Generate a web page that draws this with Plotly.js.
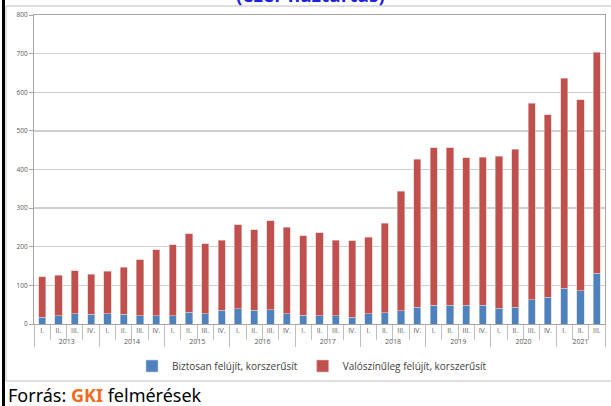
<!DOCTYPE html>
<html>
<head>
<meta charset="utf-8">
<script src="https://cdn.plot.ly/plotly-3.0.1.min.js"></script>
<style>
html,body{margin:0;padding:0;background:#fff;}
#chart{width:611px;height:406px;}
</style>
</head>
<body>
<div id="chart"></div>
<script>
// Categories
var yearLabels = ['2013','2013','2013','2013','2014','2014','2014','2014','2015','2015','2015','2015',
  '2016','2016','2016','2016','2017','2017','2017','2017','2018','2018','2018','2018',
  '2019','2019','2019','2019','2020','2020','2020','2020','2021','2021','2021'];
var quarterLabels = ['I.','II.','III.','IV.','I.','II.','III.','IV.','I.','II.','III.','IV.',
  'I.','II.','III.','IV.','I.','II.','III.','IV.','I.','II.','III.','IV.',
  'I.','II.','III.','IV.','I.','II.','III.','IV.','I.','II.','III.'];

// Series values (ezer háztartás)
var biztosan = [17,21,27,25,27,25,21,22,22,31,27,35,40,35,37,27,23,22,21,17,27,29,34,43,49,48,48,48,41,44,63,69,93,86,132];
var valoszinuleg = [105,105,111,104,109,122,145,170,183,203,181,182,217,209,230,224,206,214,196,198,198,232,310,383,407,408,383,384,393,408,508,473,543,494,571];

var seriesNames = ['Biztosan felújít, korszerűsít', 'Valószínűleg felújít, korszerűsít'];
var yTicks = [0,100,200,300,400,500,600,700,800];

// plot-area geometry in pixels (for paper-coordinate shapes)
var W = 611, H = 406, L = 34, R = 6, T = 15, B = 82;
var pw = W - L - R, ph = H - T - B;
function px(x){ return (x - L) / pw; }
function py(y){ return (H - B - y) / ph; }

var traces = [
  {type:'bar', name: seriesNames[0], x:[yearLabels, quarterLabels], y: biztosan,
   marker:{color:'#4F81BD', line:{color:'#C5D5EA', width:0.6}}},
  {type:'bar', name: seriesNames[1], x:[yearLabels, quarterLabels], y: valoszinuleg,
   marker:{color:'#C0504D', line:{color:'#EBC1C0', width:0.6}}}
];

var layout = {
  width: W, height: H,
  margin:{l:L, r:R, t:T, b:B},
  paper_bgcolor:'#ffffff', plot_bgcolor:'#ffffff',
  barmode:'stack', bargap:0.56,
  showlegend:true,
  legend:{orientation:'h', x:px(312), xanchor:'center', y:py(366), yanchor:'middle',
    font:{family:'Open Sans, sans-serif', size:10, color:'#404040'}, traceorder:'normal',
    itemwidth:30, bgcolor:'rgba(0,0,0,0)'},
  xaxis:{type:'multicategory', showgrid:false, showline:true, linecolor:'#A6A6A6', linewidth:1,
    ticks:'outside', ticklen:15, tickcolor:'#BFBFBF', tickwidth:1, tickangle:0,
    showdividers:true, dividercolor:'#BFBFBF', dividerwidth:1,
    tickfont:{family:'Open Sans, sans-serif', size:7, color:'#595959'},
    mirror:true, fixedrange:true},
  yaxis:{range:[0,800], tickvals:yTicks, ticktext:yTicks.map(String), showgrid:true,
    gridcolor:'#CFCFCF', gridwidth:1.3, zeroline:false, showline:true, linecolor:'#A6A6A6',
    linewidth:1, mirror:true, ticks:'outside', ticklen:4, tickcolor:'#A6A6A6',
    tickfont:{family:'Open Sans, sans-serif', size:6.5, color:'#595959'}, fixedrange:true},
  shapes:[
    // chart box
    {type:'rect', xref:'paper', yref:'paper', x0:px(6), x1:px(615), y0:py(381), y1:py(6),
     line:{color:'#BFBFBF', width:1}, fillcolor:'rgba(0,0,0,0)', layer:'below'},
    // black left frame line
    {type:'line', xref:'paper', yref:'paper', x0:px(3.5), x1:px(3.5), y0:py(410), y1:py(-5),
     line:{color:'#000000', width:3}}
  ],
  annotations:[
    {xref:'paper', yref:'paper', x:px(310), y:py(-5), xanchor:'center', yanchor:'middle',
     text:'<b>(ezer háztartás)</b>', showarrow:false,
     font:{family:'Open Sans, sans-serif', size:19, color:'#1F1FE0'}},
    {xref:'paper', yref:'paper', x:px(6), y:py(395), xanchor:'left', yanchor:'middle',
     text:'Forrás: <b><span style="color:#F26B1D">GKI</span></b> felmérések', showarrow:false,
     font:{family:'Noto Sans, sans-serif', size:18, color:'#000000'}}
  ]
};

Plotly.newPlot('chart', traces, layout, {displayModeBar:false, staticPlot:true});
</script>
</body>
</html>
